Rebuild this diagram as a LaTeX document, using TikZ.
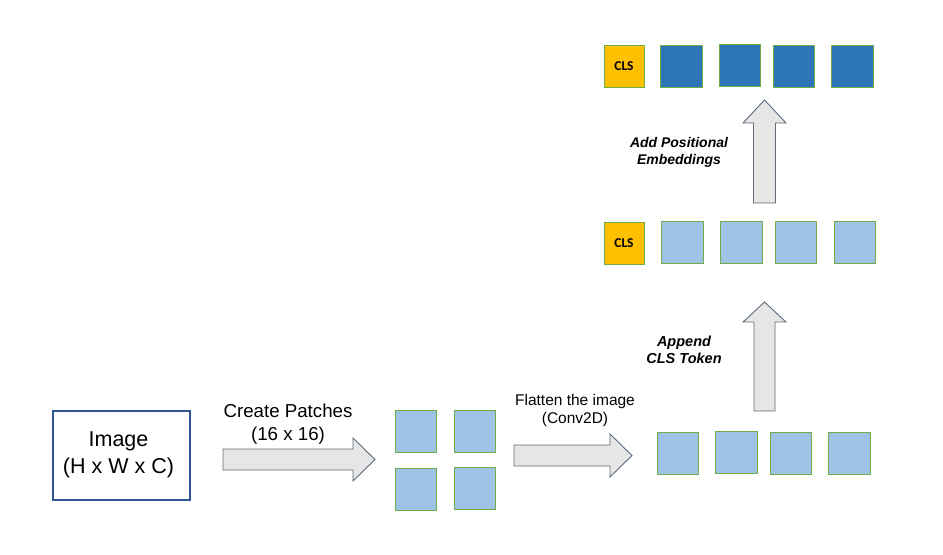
\documentclass[tikz,border=0pt]{standalone}
\usepackage{fontspec}
\setmainfont{Liberation Sans}
\newfontfamily\clsfont{Carlito}
\definecolor{patchlight}{HTML}{9DC3E6}
\definecolor{patchdark}{HTML}{2E75B6}
\definecolor{patchedge}{HTML}{70AD47}
\definecolor{clsgold}{HTML}{FFC000}
\definecolor{arrowfill}{HTML}{E7E6E6}
\definecolor{arrowedge}{HTML}{5C6A7A}
\definecolor{imgedge}{HTML}{2F5597}
\begin{document}
\begin{tikzpicture}[x=1bp,y=-1bp,
  sq/.style={draw=patchedge,line width=0.9bp,inner sep=0pt,minimum width=41.5bp,minimum height=42bp},
  light/.style={sq,fill=patchlight},
  dark/.style={sq,fill=patchdark},
  clsbox/.style={sq,fill=clsgold,minimum width=40bp,font=\clsfont\bfseries\fontsize{13.5bp}{15bp}\selectfont},
  blockarrow/.style={fill=arrowfill,draw=arrowedge,line width=0.9bp,line join=miter},
  lbl/.style={align=center,inner sep=0pt},
  bilbl/.style={lbl,font=\bfseries\itshape\fontsize{14.5bp}{17.5bp}\selectfont}
]
\useasboundingbox (0,0) rectangle (943,555);

% image box
\node[draw=imgedge,line width=2.4bp,minimum width=137bp,minimum height=89bp,inner sep=0pt] (img) at (121.5,455.5) {};
\node[lbl,font=\fontsize{21.5bp}{27bp}\selectfont] (imgtxt) at (118.5,454.5) {Image\\(H x W x C)};

% create patches arrow
\draw[blockarrow] (223,449) -- (353,449) -- (353,438) -- (375,459.5) -- (353,481) -- (353,470) -- (223,470) -- cycle;
\node[lbl,font=\fontsize{18.7bp}{23bp}\selectfont] (cp) at (288,424) {Create Patches\\(16 x 16)};

% 2x2 patches
\node[light] (p1) at (416,431) {};
\node[light] (p2) at (475,431.5) {};
\node[light] (p3) at (416,489) {};
\node[light] (p4) at (475,488) {};

% flatten arrow
\draw[blockarrow] (514,445) -- (610,445) -- (610,434) -- (632,455.5) -- (610,477) -- (610,466) -- (514,466) -- cycle;
\node[lbl,font=\fontsize{15.5bp}{18bp}\selectfont] (fl) at (575,410) {Flatten the image\\(Conv2D)};

% flattened row
\node[light] (f1) at (678,453) {};
\node[light] (f2) at (736.5,452) {};
\node[light] (f3) at (791,453.5) {};
\node[light] (f4) at (849.5,453) {};

% append arrow
\draw[blockarrow] (754,411) -- (754,322) -- (743,322) -- (764.5,302) -- (786,322) -- (775,322) -- (775,411) -- cycle;
\node[bilbl] (ap) at (684,350) {Append\\CLS Token};

% row with CLS
\node[clsbox] (c2) at (624,243) {CLS};
\node[light] (s2) at (682.5,242) {};
\node[light] (s3) at (741.5,242) {};
\node[light] (s4) at (796,242) {};
\node[light] (s5) at (855,242) {};

% add positional arrow
\draw[blockarrow] (753.5,203) -- (753.5,123) -- (743,123) -- (764.5,100) -- (786,123) -- (775.5,123) -- (775.5,203) -- cycle;
\node[bilbl,font=\bfseries\itshape\fontsize{14bp}{17bp}\selectfont] (pe) at (679,152) {Add Positional\\Embeddings};

% final row
\node[clsbox] (c1) at (624,66) {CLS};
\node[dark] (e2) at (681.5,66) {};
\node[dark] (e3) at (740,65.5) {};
\node[dark] (e4) at (794,66) {};
\node[dark] (e5) at (852.5,66) {};
\end{tikzpicture}
\end{document}
